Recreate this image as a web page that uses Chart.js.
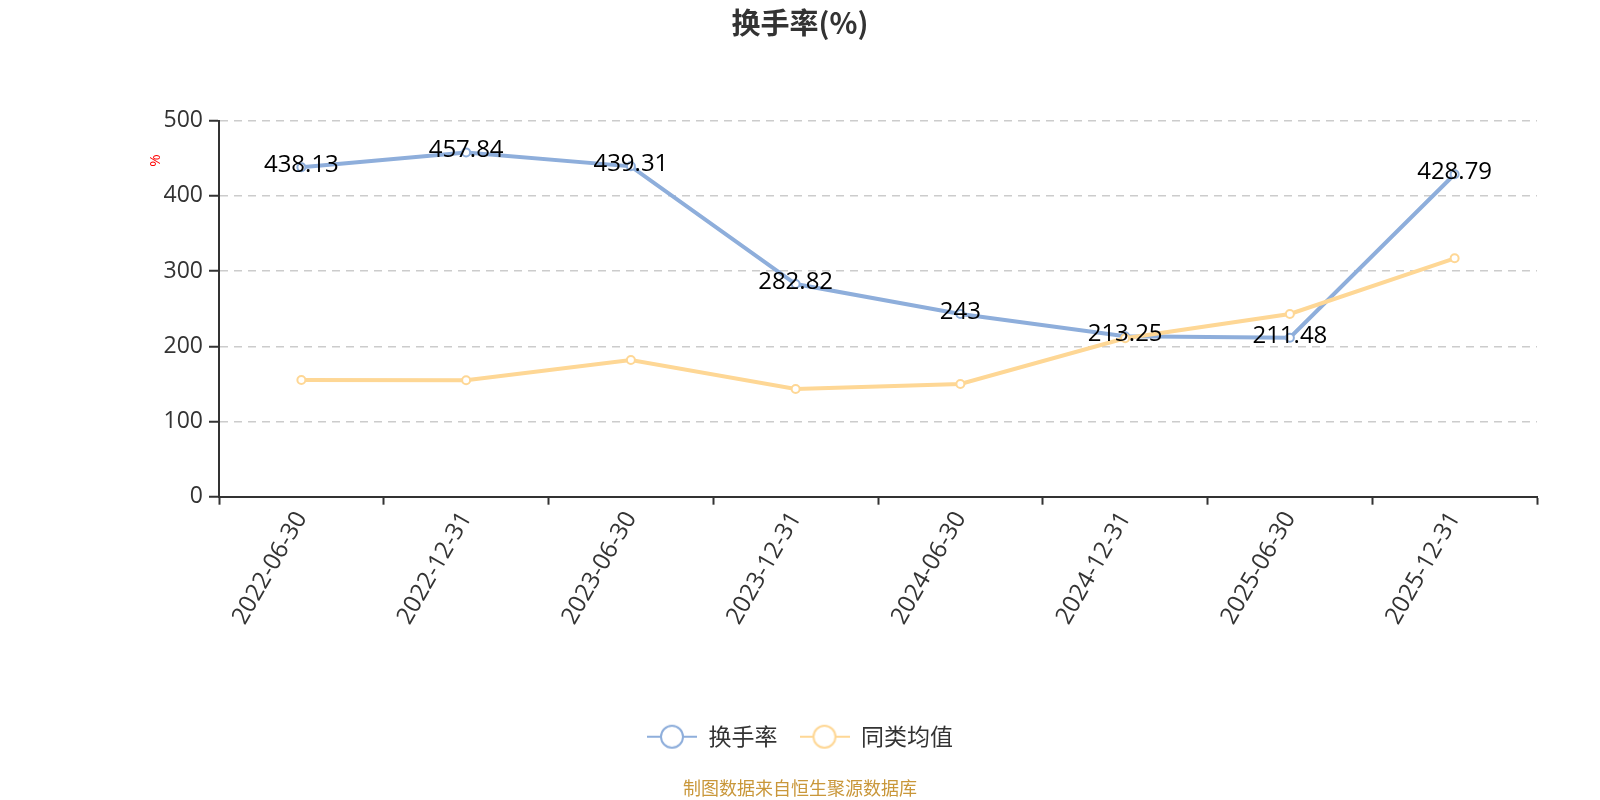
<!DOCTYPE html>
<html>
<head>
<meta charset="utf-8">
<script src="https://cdn.jsdelivr.net/npm/chart.js@4/dist/chart.umd.min.js"></script>
<style>
  html, body { margin: 0; padding: 0; background: #fff; }
  #wrap { width: 1600px; height: 800px; }
</style>
</head>
<body>
<div id="wrap"><canvas id="c" width="1600" height="800"></canvas></div>
<script>
const categories = ['2022-06-30','2022-12-31','2023-06-30','2023-12-31','2024-06-30','2024-12-31','2025-06-30','2025-12-31'];
const turnoverRate = [438.13, 457.84, 439.31, 282.82, 243, 213.25, 211.48, 428.79];
const peerAverage = [155.2, 154.8, 181.8, 143.2, 149.9, 210.6, 243, 317];
const yTicks = [0, 100, 200, 300, 400, 500];
const seriesNames = ['换手率', '同类均值'];
const titleText = '换手率(%)';
const footerText = '制图数据来自恒生聚源数据库';
const yUnit = '%';

const BLUE = '#8eaedb';
const YELLOW = '#fed795';
const FONT = '"Open Sans", "Noto Sans CJK SC", sans-serif';
const CJK = '"Noto Sans CJK SC", "Open Sans", sans-serif';

function legendIcon(color) {
  const cv = document.createElement('canvas');
  cv.width = 50; cv.height = 26;
  const g = cv.getContext('2d');
  g.strokeStyle = color;
  g.lineWidth = 2;
  g.beginPath(); g.moveTo(0, 13); g.lineTo(50, 13); g.stroke();
  g.beginPath(); g.arc(25, 13, 11, 0, Math.PI * 2);
  g.fillStyle = '#fff'; g.fill(); g.stroke();
  return cv;
}
const icons = [legendIcon(BLUE), legendIcon(YELLOW)];

const labelPlugin = {
  id: 'valueLabels',
  afterDatasetsDraw(chart) {
    const meta = chart.getDatasetMeta(0);
    const ctx = chart.ctx;
    ctx.save();
    ctx.font = '24px ' + FONT;
    ctx.fillStyle = '#000';
    ctx.textAlign = 'center';
    ctx.textBaseline = 'middle';
    meta.data.forEach((pt, i) => {
      ctx.fillText(String(turnoverRate[i]), pt.x, pt.y - 2);
    });
    ctx.restore();
  }
};

const unitPlugin = {
  id: 'yUnit',
  afterDraw(chart) {
    const ctx = chart.ctx;
    const y = chart.scales.y;
    ctx.save();
    ctx.translate(156, y.getPixelForValue(447));
    ctx.rotate(-Math.PI / 2);
    ctx.font = '15px ' + FONT;
    ctx.fillStyle = '#ff0000';
    ctx.textAlign = 'center';
    ctx.textBaseline = 'middle';
    ctx.fillText(yUnit, 0, 0);
    ctx.restore();
  }
};

new Chart(document.getElementById('c'), {
  type: 'line',
  data: {
    labels: categories,
    datasets: [
      {
        label: seriesNames[0], data: turnoverRate, order: 1,
        borderColor: BLUE, backgroundColor: '#fff', borderWidth: 4,
        pointRadius: 4, pointBorderWidth: 2, pointBackgroundColor: '#fff', pointBorderColor: BLUE,
        tension: 0
      },
      {
        label: seriesNames[1], data: peerAverage, order: 0,
        borderColor: YELLOW, backgroundColor: '#fff', borderWidth: 4,
        pointRadius: 4, pointBorderWidth: 2, pointBackgroundColor: '#fff', pointBorderColor: YELLOW,
        tension: 0
      }
    ]
  },
  options: {
    responsive: false,
    animation: false,
    events: [],
    layout: { padding: { left: 63, right: 63, top: 0, bottom: 0 } },
    plugins: {
      title: {
        display: true, text: titleText, color: '#333',
        font: { family: CJK, size: 29, weight: 'bold', lineHeight: 1.2 },
        padding: { top: 6, bottom: 79.9 }
      },
      subtitle: {
        display: true, text: footerText, position: 'bottom', color: '#c9973a',
        font: { family: CJK, size: 18, lineHeight: 1.2 },
        padding: { top: 19, bottom: 1.2 }
      },
      legend: {
        position: 'bottom',
        labels: {
          usePointStyle: true, pointStyleWidth: 50, padding: 22,
          color: '#333', font: { family: CJK, size: 23 },
          generateLabels(chart) {
            return chart.data.datasets.map((ds, i) => ({
              text: ds.label, datasetIndex: i, pointStyle: icons[i],
              fillStyle: '#fff', strokeStyle: ds.borderColor, lineWidth: 0,
              fontColor: '#333', hidden: false
            }));
          }
        }
      },
      tooltip: { enabled: false }
    },
    scales: {
      x: {
        offset: true,
        afterFit(s) { s.height = 206.5; },
        grid: { display: true, drawOnChartArea: false, drawTicks: true, offset: true, tickLength: 8, tickColor: '#333', tickWidth: 2 },
        border: { display: true, color: '#333', width: 2 },
        ticks: { color: '#333', font: { family: FONT, size: 24 }, minRotation: 60, maxRotation: 60, padding: 2, autoSkip: false }
      },
      y: {
        min: 0, max: 500,
        afterFit(s) { s.width = 156; },
        afterBuildTicks(s) { s.ticks = yTicks.map(v => ({ value: v })); },
        grid: { color: '#cccccc', lineWidth: 1.5, tickLength: 10, tickColor: '#333', tickWidth: 2, tickBorderDash: [] },
        border: { display: true, color: '#333', width: 2, dash: [8, 6] },
        ticks: { color: '#333', font: { family: FONT, size: 23 }, padding: 6 }
      }
    }
  },
  plugins: [labelPlugin, unitPlugin]
});
</script>
</body>
</html>
